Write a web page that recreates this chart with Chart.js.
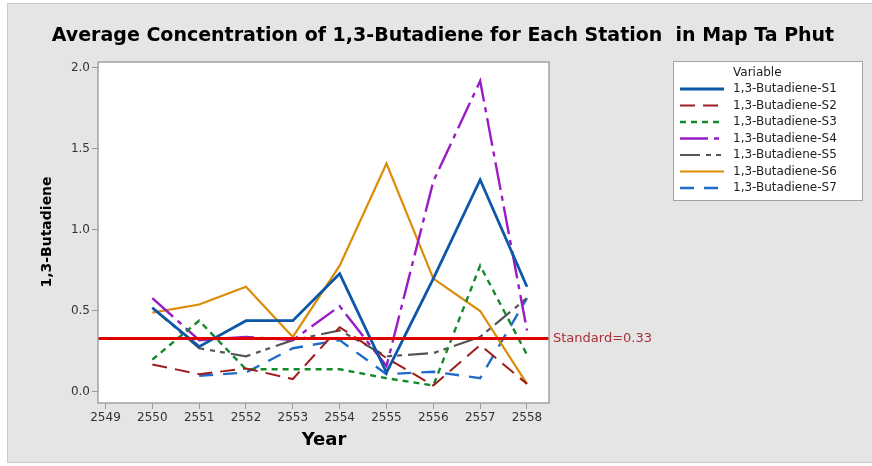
<!DOCTYPE html>
<html>
<head>
<meta charset="utf-8">
<script src="https://cdn.jsdelivr.net/npm/chart.js@4/dist/chart.umd.min.js"></script>
<style>
  html, body { margin: 0; padding: 0; background: #ffffff; }
  canvas { display: block; }
</style>
</head>
<body>
<canvas id="grafico" width="872" height="466"></canvas>
<script>
// anos (eixo x) e valores
const years = [2550, 2551, 2552, 2553, 2554, 2555, 2556, 2557, 2558];
const xTicks = [2549, 2550, 2551, 2552, 2553, 2554, 2555, 2556, 2557, 2558];
const yTicks = [0, 0.5, 1.0, 1.5, 2.0];

const s1 = [0.52, 0.28, 0.44, 0.44, 0.73, 0.12, 0.70, 1.31, 0.65];
const s2 = [0.17, 0.11, 0.145, 0.08, 0.40, 0.21, 0.04, 0.29, 0.05];
const s3 = [0.20, 0.44, 0.14, 0.14, 0.14, 0.085, 0.04, 0.78, 0.23];
const s4 = [0.58, 0.32, 0.34, 0.32, 0.53, 0.16, 1.30, 1.92, 0.38];
const s5 = [0.52, 0.27, 0.22, 0.32, 0.38, 0.22, 0.24, 0.34, 0.58];
const s6 = [0.49, 0.54, 0.65, 0.34, 0.78, 1.41, 0.70, 0.50, 0.05];
const s7 = [null, 0.10, 0.12, 0.27, 0.32, 0.11, 0.125, 0.085, 0.58];

const seriesNames = ['1,3-Butadiene-S1', '1,3-Butadiene-S2', '1,3-Butadiene-S3', '1,3-Butadiene-S4',
  '1,3-Butadiene-S5', '1,3-Butadiene-S6', '1,3-Butadiene-S7'];
const standard = 0.33;

const xMin = 2548.84, xMax = 2558.47;

const estilos = [
  { color: '#0b57a8', width: 2.8, dash: [] },
  { color: '#a01c1c', width: 2, dash: [15, 8] },
  { color: '#138a2a', width: 2.4, dash: [6, 5] },
  { color: '#9a1dc4', width: 2.4, dash: [28, 6, 5, 6] },
  { color: '#555555', width: 2.2, dash: [20, 6, 5, 5, 5, 6] },
  { color: '#dc8c04', width: 2.2, dash: [] },
  { color: '#1f6dc8', width: 2.4, dash: [14, 10] }
];

const FONT = '"DejaVu Sans", sans-serif';

function pontos(valores) {
  return years.map((ano, i) => ({ x: ano, y: valores[i] }));
}

const series = [s1, s2, s3, s4, s5, s6, s7];

const datasets = [{
  label: 'Standard',
  data: [{ x: xMin, y: standard }, { x: xMax, y: standard }],
  borderColor: '#e00000',
  borderWidth: 3,
  pointRadius: 0,
  order: 0
}];

series.forEach((valores, i) => {
  datasets.push({
    label: seriesNames[i],
    data: pontos(valores),
    borderColor: estilos[i].color,
    borderWidth: estilos[i].width,
    borderDash: estilos[i].dash,
    pointRadius: 0,
    tension: 0,
    spanGaps: false,
    order: 1 + i
  });
});

const desenhos = {
  id: 'desenhos',
  beforeDraw(chart) {
    const ctx = chart.ctx;
    const a = chart.chartArea;
    ctx.save();
    ctx.fillStyle = '#e5e5e5';
    ctx.fillRect(7, 3, 865, 460);
    ctx.strokeStyle = '#c9c9c9';
    ctx.lineWidth = 1;
    ctx.strokeRect(7.5, 3.5, 866, 459);
    ctx.fillStyle = '#ffffff';
    ctx.fillRect(a.left, a.top, a.right - a.left, a.bottom - a.top);
    ctx.restore();
  },
  afterDraw(chart) {
    const ctx = chart.ctx;
    const a = chart.chartArea;
    const y = chart.scales.y;
    ctx.save();

    // moldura da área do gráfico
    ctx.strokeStyle = '#a3a3a3';
    ctx.lineWidth = 1.5;
    ctx.strokeRect(a.left, a.top, a.right - a.left, a.bottom - a.top);

    // título
    ctx.fillStyle = '#000000';
    ctx.font = 'bold 19px ' + FONT;
    ctx.textAlign = 'center';
    ctx.textBaseline = 'middle';
    ctx.fillText('Average Concentration of 1,3-Butadiene for Each Station  in Map Ta Phut', 443, 36);

    // títulos dos eixos
    ctx.font = 'bold 18px ' + FONT;
    ctx.fillText('Year', 324, 440);
    ctx.save();
    ctx.translate(47, 232);
    ctx.rotate(-Math.PI / 2);
    ctx.font = 'bold 14px ' + FONT;
    ctx.fillText('1,3-Butadiene', 0, 0);
    ctx.restore();

    // rótulo da linha padrão
    ctx.fillStyle = '#a8303a';
    ctx.font = '13px ' + FONT;
    ctx.textAlign = 'left';
    ctx.fillText('Standard=' + standard, a.right + 4, y.getPixelForValue(standard));

    // legenda
    ctx.fillStyle = '#ffffff';
    ctx.fillRect(673, 61, 189, 139);
    ctx.strokeStyle = '#a3a3a3';
    ctx.lineWidth = 1;
    ctx.strokeRect(673.5, 61.5, 189, 139);
    ctx.fillStyle = '#222222';
    ctx.font = '12px ' + FONT;
    ctx.fillText('Variable', 733, 73);
    seriesNames.forEach((nome, i) => {
      const ly = 89 + i * 16.5;
      ctx.save();
      ctx.strokeStyle = estilos[i].color;
      ctx.lineWidth = estilos[i].width;
      ctx.setLineDash(estilos[i].dash);
      ctx.beginPath();
      ctx.moveTo(680, ly);
      ctx.lineTo(724, ly);
      ctx.stroke();
      ctx.restore();
      ctx.fillStyle = '#222222';
      ctx.fillText(nome, 733, ly);
    });
    ctx.restore();
  }
};

new Chart(document.getElementById('grafico'), {
  type: 'line',
  data: { datasets },
  plugins: [desenhos],
  options: {
    responsive: false,
    animation: false,
    layout: { padding: { top: 62, right: 323, bottom: 0, left: 0 } },
    plugins: {
      legend: { display: false },
      title: { display: false },
      tooltip: { enabled: false }
    },
    scales: {
      x: {
        type: 'linear',
        min: xMin,
        max: xMax,
        afterBuildTicks: s => { s.ticks = xTicks.map(v => ({ value: v })); },
        afterFit: s => { s.height = 63; },
        ticks: {
          callback: v => String(v),
          color: '#333333',
          font: { family: FONT, size: 12 },
          padding: 2,
          maxRotation: 0,
          autoSkip: false
        },
        grid: { drawOnChartArea: false, tickLength: 6, color: '#999999' },
        border: { display: false }
      },
      y: {
        min: -0.068,
        max: 2.037,
        afterBuildTicks: s => { s.ticks = yTicks.map(v => ({ value: v })); },
        afterFit: s => { s.width = 98; },
        ticks: {
          callback: v => v.toFixed(1),
          color: '#333333',
          font: { family: FONT, size: 12 },
          padding: 2
        },
        grid: { drawOnChartArea: false, tickLength: 6, color: '#999999' },
        border: { display: false }
      }
    }
  }
});
</script>
</body>
</html>
